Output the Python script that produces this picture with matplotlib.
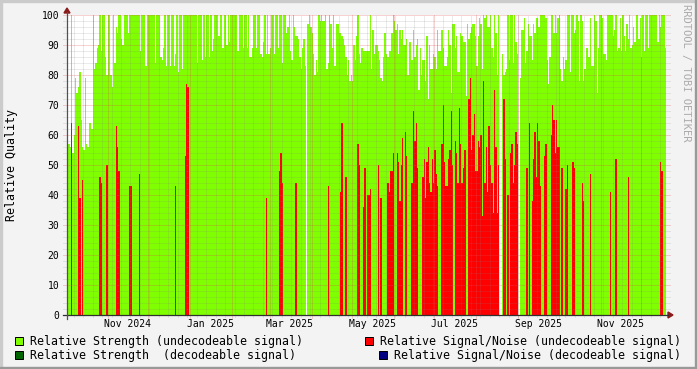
import datetime as dt
import numpy as np
import matplotlib
matplotlib.use("Agg")
import matplotlib.pyplot as plt
import matplotlib.dates as mdates
from matplotlib.patches import Rectangle, Polygon

# daily values, first day 2024-10-02
start = dt.datetime(2024, 10, 2)
end = dt.datetime(2025, 12, 19, 10)

strength = [
    62, 57, 56, 100, 54, 60, 79, 74, 76, 81,
    65, 56, 55, 79, 57, 56, 64, 64, 62, 100,
    82, 84, 89, 90, 100, 88, 100, 100, 86, 80,
    100, 100, 80, 76, 100, 84, 96, 94, 100, 100,
    92, 90, 100, 100, 100, 94, 100, 100, 100, 100,
    100, 100, 100, 100, 88, 100, 100, 100, 83, 100,
    100, 100, 100, 100, 100, 84, 100, 100, 100, 86,
    85, 89, 100, 83, 100, 100, 83, 100, 100, 83,
    87, 100, 81, 100, 100, 82, 100, 100, 100, 100,
    100, 100, 100, 100, 100, 100, 84, 100, 100, 100,
    85, 100, 86, 100, 100, 86, 100, 88, 92, 100,
    100, 100, 93, 100, 100, 89, 100, 100, 90, 100,
    91, 100, 100, 100, 100, 100, 88, 100, 100, 100,
    89, 100, 100, 89, 100, 86, 86, 89, 100, 100,
    89, 100, 100, 87, 86, 91, 100, 87, 100, 87,
    89, 100, 100, 87, 100, 100, 89, 100, 100, 84,
    100, 100, 94, 96, 100, 88, 85, 100, 96, 93,
    93, 92, 86, 82, 89, 92, 83, np.nan, 97, 100,
    96, 94, 87, 80, 85, 81, 100, 98, 100, 98,
    98, 100, 82, 84, 100, 97, 89, 100, 83, 97,
    97, 94, 94, 93, 92, 90, 86, 80, 85, 78,
    80, 78, 90, 85, 93, 100, 87, 84, 89, 88,
    88, 88, 88, 88, 100, 82, 95, 87, 90, 90,
    88, 85, 79, 78, 86, 94, 87, 86, 88, 88,
    94, 100, 98, 95, 97, 87, 95, 92, 95, 90,
    90, 92, 80, 91, 91, 85, 95, 86, 90, 92,
    75, 89, 80, 85, 85, 78, 93, 72, 90, 82,
    82, 87, 86, 82, 95, 88, 88, 95, 89, 83,
    83, 86, 95, 90, 74, 97, 97, 89, 93, 81,
    81, 94, 93, 91, 91, 73, 97, 92, 94, 96,
    97, 97, 93, 83, 93, 99, 97, 82, 100, 99,
    100, 96, 96, 100, 89, 86, 100, 94, 80, 100,
    np.nan, np.nan, 87, 80, 81, 82, 100, 85, 100, 100,
    84, 100, 91, 87, np.nan, 79, 95, 95, 99, 84,
    88, 97, 93, 93, 85, 97, 94, 99, 99, 96,
    100, 100, 100, 100, 99, 85, 77, 86, 100, 100,
    94, 100, 94, 99, 100, 82, 78, 86, 82, 85,
    100, 100, 81, 100, 100, 94, 95, 100, 98, 78,
    100, 98, 78, 82, 89, 89, 86, 99, 83, 83,
    100, 98, 74, 89, 100, 100, 99, 87, 87, 85,
    100, 100, 100, 100, 93, 95, 100, 88, 89, 99,
    88, 100, 93, 88, 97, 92, 100, 89, 90, 96,
    91, 100, 100, 92, 99, 86, 100, 88, 100, 100,
    89, 100, 100, 100, 100, 100, 100, 91, 100, 96,
    100, 100, 100, 89,
]

# signal/noise (undecodeable): day index and value
snr_day = [3, 8, 9, 11, 24, 25, 29, 36, 37, 38, 46, 47, 53, 80, 87, 88, 89,
           147, 157, 158, 159, 169, 193, 202, 203, 206, 215, 216, 219, 220,
           222, 223, 224, 230, 232, 237, 238, 239, 240, 241, 244, 245, 246,
           247, 248, 250, 251, 255, 256, 257, 258, 259, 263, 264, 265, 266,
           267, 268, 269, 270, 271, 272, 273, 274, 277, 278, 279, 280, 281,
           282, 283, 284, 285, 287, 288, 289, 290, 291, 292, 293, 294, 297,
           298, 299, 300, 301, 302, 303, 304, 305, 306, 307, 308, 309, 310,
           311, 312, 313, 314, 315, 316, 317, 318, 319, 323, 324, 326, 328,
           329, 330, 331, 332, 333, 340, 342, 344, 345, 346, 347, 348, 349,
           350, 353, 354, 358, 359, 360, 361, 362, 363, 364, 366, 369, 370,
           374, 375, 381, 382, 387, 402, 406, 415, 439, 440]
snr_val = [64, 63, 39, 45, 46, 44, 50, 63, 56, 48, 43, 43, 47, 43, 53, 77, 76,
           39, 48, 54, 44, 44, 43, 41, 64, 46, 57, 50, 36, 49,
           40, 40, 42, 50, 39, 44, 41, 48, 48, 54, 54, 51, 38,
           50, 59, 61, 53, 44, 68, 58, 64, 49, 46, 52, 39, 51,
           56, 44, 41, 52, 44, 55, 47, 43, 57, 70, 51, 43, 43,
           52, 55, 68, 50, 58, 54, 44, 69, 57, 44, 49, 55, 72,
           79, 55, 60, 67, 48, 48, 58, 56, 60, 33, 78, 44, 56,
           41, 63, 50, 44, 34, 75, 56, 34, 50, 72, 52, 40, 54,
           57, 44, 50, 61, 57, 49, 64, 38, 52, 61, 46, 64, 58,
           43, 53, 57, 60, 70, 65, 54, 65, 56, 56, 49, 42, 50,
           51, 49, 44, 38, 47, 41, 52, 46, 51, 48]

W, H = 697, 369
def fx(px):
    return px / W
def fy(py):
    return 1 - py / H

plt.rcParams['font.family'] = 'DejaVu Sans Mono'
fig = plt.figure(figsize=(W / 100, H / 100), dpi=100, facecolor='#F3F3F3')
ax = fig.add_axes([fx(67), fy(315), fx(666) - fx(67), fy(15) - fy(315)])
ax.set_facecolor('white')

n = len(strength)
t0 = mdates.date2num(start)
edges = t0 + np.arange(n + 1)
green = np.nan_to_num(np.array(strength, dtype=float))
snr = np.zeros(n)
snr[snr_day] = snr_val

ax.stairs(green, edges, fill=True, color='#80FF00', baseline=0, zorder=2)
ax.stairs(snr, edges, fill=True, color='#FF0000', baseline=0, zorder=3)

ax.set_xlim(start, end)
ax.set_ylim(0, 100)
for s in ax.spines.values():
    s.set_visible(False)

# grid drawn over the data, like rrdtool
minor_c = (0.5, 0.5, 0.5, 0.32)
major_c = (0.87, 0.31, 0.31, 0.5)
dots = (0, (1, 1))
lw = 0.72
ytr = ax.get_yaxis_transform()
for v in range(0, 101, 2):
    c = major_c if v % 10 == 0 else minor_c
    ax.plot([-0.006, 1.006], [v, v], transform=ytr, color=c, lw=lw,
            ls=dots, clip_on=False, zorder=5)
weeks = mdates.WeekdayLocator(byweekday=mdates.MO).tick_values(start, end)
months = mdates.MonthLocator().tick_values(start, end)
xtr = ax.get_xaxis_transform()
for w in weeks:
    if mdates.date2num(start) < w < mdates.date2num(end):
        ax.plot([w, w], [-0.007, 1.0], transform=xtr, color=minor_c, lw=lw,
                ls=dots, clip_on=False, zorder=5)
for m in months:
    if mdates.date2num(start) < m < mdates.date2num(end):
        ax.plot([m, m], [-0.01, 1.0], transform=xtr, color=major_c, lw=lw,
                ls=dots, clip_on=False, zorder=6)

# axes lines and arrows
fig.add_artist(plt.Line2D([fx(63), fx(668)], [fy(315), fy(315)], color='#303030', lw=0.9))
fig.add_artist(plt.Line2D([fx(67), fx(67)], [fy(319), fy(12)], color='#505050', lw=0.9))
fig.add_artist(Polygon([[fx(668), fy(312)], [fx(673), fy(315)], [fx(668), fy(318)]],
                       closed=True, color='#8B1A1A', transform=fig.transFigure))
fig.add_artist(Polygon([[fx(64), fy(13)], [fx(67), fy(8)], [fx(70), fy(13)]],
                       closed=True, color='#8B1A1A', transform=fig.transFigure))

# ticks
ax.set_yticks(range(0, 101, 10))
label_days = mdates.MonthLocator(bymonth=(1, 3, 5, 7, 9, 11), bymonthday=16)
ax.xaxis.set_major_locator(label_days)
ax.xaxis.set_major_formatter(mdates.DateFormatter('%b %Y'))
ax.tick_params(axis='both', length=0, labelsize=7, colors='black')
ax.tick_params(axis='y', pad=5.4)
ax.tick_params(axis='x', pad=2.9)

fig.text(fx(12), fy(165), 'Relative Quality', rotation=90, ha='center',
         va='center', fontsize=8.4)
fig.text(fx(686), fy(4), 'RRDTOOL / TOBI OETIKER', rotation=270, ha='center',
         va='top', fontsize=7.5, color='#ABABAB')

# legend
legend = [
    (15, 337, 30, 345, '#80FF00', 'Relative Strength (undecodeable signal)'),
    (15, 351, 30, 359, '#006400', 'Relative Strength  (decodeable signal)'),
    (365, 337, 380, 345, '#FF0000', 'Relative Signal/Noise (undecodeable signal)'),
    (379, 351, 394, 359, '#000080', 'Relative Signal/Noise (decodeable signal)'),
]
for bx, by, tx, ty, col, txt in legend:
    fig.add_artist(Rectangle((fx(bx), fy(by + 8)), 8 / W, 8 / H, facecolor=col,
                             edgecolor='black', lw=0.72, transform=fig.transFigure))
    fig.text(fx(tx), fy(ty), txt, ha='left', va='baseline', fontsize=8.4)

# frame
fig.add_artist(Rectangle((0, fy(2)), 1, 2 / H, color='#CBCBCB', transform=fig.transFigure))
fig.add_artist(Rectangle((0, 0), 2 / W, 1, color='#CBCBCB', transform=fig.transFigure))
fig.add_artist(Rectangle((0, 0), 1, 2 / H, color='#999999', transform=fig.transFigure))
fig.add_artist(Rectangle((fx(695), 0), 2 / W, 1, color='#999999', transform=fig.transFigure))

fig.savefig('out.png', dpi=100, facecolor=fig.get_facecolor())
